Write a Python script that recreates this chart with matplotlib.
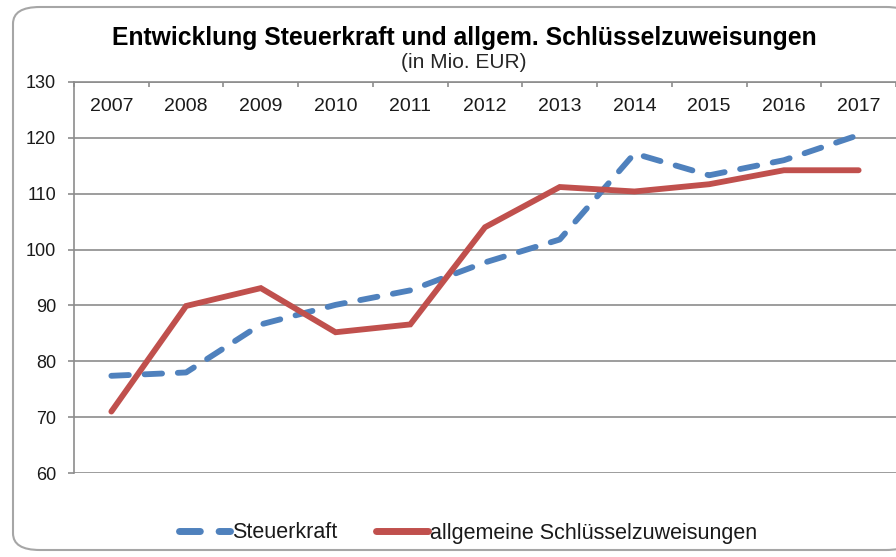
import matplotlib
matplotlib.use("Agg")
import matplotlib.pyplot as plt
from matplotlib.patches import FancyBboxPatch
import numpy as np

plt.rcParams['font.family'] = ['Liberation Sans', 'DejaVu Sans']

years = ["2007", "2008", "2009", "2010", "2011", "2012", "2013", "2014", "2015", "2016", "2017"]
steuerkraft = [77.4, 78.0, 86.6, 90.1, 92.7, 97.7, 101.8, 117.2, 113.3, 116.0, 120.5]
schluessel = [71.0, 89.9, 93.1, 85.2, 86.6, 104.0, 111.2, 110.4, 111.7, 114.2, 114.2]

title = "Entwicklung Steuerkraft und allgem. Schlüsselzuweisungen"
subtitle = "(in Mio. EUR)"
yticks = [60, 70, 80, 90, 100, 110, 120, 130]

blue = "#4F81BD"
red = "#C0504D"
grid_col = "#8C8C8C"

fig = plt.figure(figsize=(8.96, 5.57), dpi=100)
W, H = 896, 557

# chart frame (rounded, cut off at right like the screenshot)
frame = FancyBboxPatch((13 / W, 7 / H), 900 / W, 543 / H,
                       boxstyle="round,pad=0,rounding_size=0.03",
                       transform=fig.transFigure, facecolor="white",
                       edgecolor="#A6A6A6", linewidth=1.5, clip_on=False, zorder=-5)
fig.patches.append(frame)

ax = fig.add_axes([74 / W, 1 - 473 / H, 822 / W, 391 / H])
ax.set_facecolor("none")

x = np.arange(len(years))
ax.plot(x, steuerkraft, color=blue, linewidth=4.2, linestyle=(0, (3.0, 2.7)),
        dash_capstyle="round", solid_capstyle="round", label="Steuerkraft", zorder=3)
ax.plot(x, schluessel, color=red, linewidth=4.2, solid_capstyle="round",
        solid_joinstyle="miter", label="allgemeine Schlüsselzuweisungen", zorder=4)

ax.set_xlim(-0.5, len(years) - 0.5)
ax.set_ylim(60, 130)
ax.set_yticks(yticks)
ax.yaxis.grid(True, color=grid_col, linewidth=1.2)
ax.set_axisbelow(True)

ax.set_xticks(x)
ax.set_xticklabels(years)
ax.set_xticks(np.arange(-0.5, len(years), 1.0), minor=True)
ax.tick_params(axis="x", which="major", top=True, bottom=False, labeltop=True,
               labelbottom=False, length=0, pad=-24, labelsize=14, labelcolor="#1a1a1a")
ax.tick_params(axis="x", which="minor", top=True, bottom=False, direction="in",
               length=3.5, width=1.2, color=grid_col)
ax.tick_params(axis="y", length=4.5, width=1.2, color=grid_col, pad=8.5,
               labelsize=13, labelcolor="#1a1a1a")

for s in ["right", "bottom"]:
    ax.spines[s].set_visible(False)
for s in ["left", "top"]:
    ax.spines[s].set_color(grid_col)
    ax.spines[s].set_linewidth(1.2)

fig.text(464 / W, 1 - 38 / H, title, ha="center", va="center",
         fontsize=17.8, fontweight="bold", color="black")
fig.text(464 / W, 1 - 62 / H, subtitle, ha="center", va="center",
         fontsize=15, color="#262626")

leg = fig.legend(loc="center", bbox_to_anchor=(468 / W, 1 - 533 / H), ncol=2,
                 frameon=False, fontsize=15.5, handlelength=2.4, handletextpad=0.1,
                 columnspacing=1.8)
for t in leg.get_texts():
    t.set_color("#1a1a1a")
for h in leg.legend_handles:
    h.set_linewidth(5)

fig.savefig("out.png", dpi=100)
